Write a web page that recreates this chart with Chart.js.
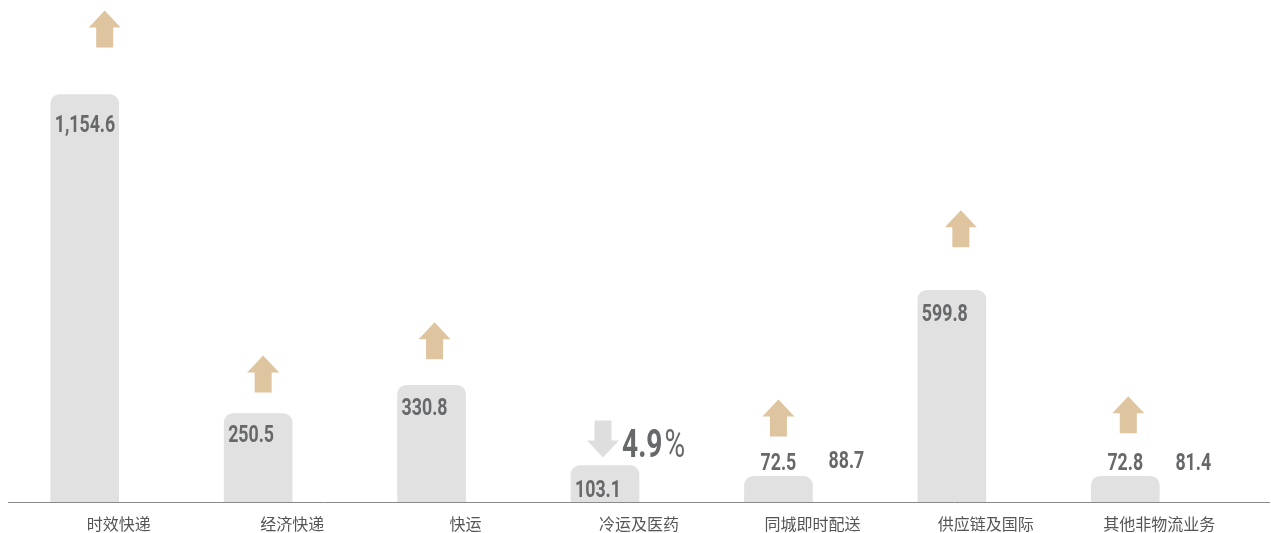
<!DOCTYPE html>
<html>
<head>
<meta charset="utf-8">
<script src="https://cdn.jsdelivr.net/npm/chart.js@4.4.1/dist/chart.umd.min.js"></script>
<style>
  html, body { margin: 0; padding: 0; background: #fff; }
  #wrap { position: relative; width: 1271px; height: 533px; }
</style>
</head>
<body>
<div id="wrap"><canvas id="c"></canvas></div>
<script>
/* ── data ─────────────────────────────── */
const CATEGORIES  = ['时效快递', '经济快递', '快运', '冷运及医药', '同城即时配送', '供应链及国际', '其他非物流业务'];
const REVENUE     = [1154.6, 250.5, 330.8, 103.1, 72.5, 599.8, 72.8];
const SIDE_VALUES = [null, null, null, null, 88.7, null, 81.4];
const TREND       = ['up', 'up', 'up', 'down', 'up', 'up', 'up'];
const CHANGE_PCT  = [null, null, null, 4.9, null, null, null];
const Y_MAX = 1400;

/* ── style ────────────────────────────── */
const BAR  = '#e1e1e1';
const INK  = '#67686a';
const TAN  = '#dfc4a0';
const GREY_ARROW = '#dedede';
const NUM_FONT = 'Roboto, "DejaVu Sans", sans-serif';
const SQUEEZE = 0.74;   // condensed look for the numbers

const fmt = v => v.toLocaleString('en-US', { minimumFractionDigits: 1, maximumFractionDigits: 1 });

// draws horizontally squeezed text, returns its drawn width
function narrowText(ctx, txt, x, y, align, font) {
  ctx.save();
  ctx.font = font;
  const w = ctx.measureText(txt).width * SQUEEZE;
  let left = x;
  if (align === 'center') left = x - w / 2;
  else if (align === 'right') left = x - w;
  ctx.translate(left, y);
  ctx.scale(SQUEEZE, 1);
  ctx.textAlign = 'left';
  ctx.textBaseline = 'alphabetic';
  ctx.fillText(txt, 0, 0);
  ctx.restore();
  return w;
}

function drawArrow(ctx, cx, top, dir, color) {
  const w = 32, h = 37, head = 17, shaft = 17;
  ctx.fillStyle = color;
  ctx.beginPath();
  if (dir === 'up') {
    ctx.moveTo(cx, top);
    ctx.lineTo(cx + w / 2, top + head);
    ctx.lineTo(cx + shaft / 2, top + head);
    ctx.lineTo(cx + shaft / 2, top + h);
    ctx.lineTo(cx - shaft / 2, top + h);
    ctx.lineTo(cx - shaft / 2, top + head);
    ctx.lineTo(cx - w / 2, top + head);
  } else {
    ctx.moveTo(cx - shaft / 2, top);
    ctx.lineTo(cx + shaft / 2, top);
    ctx.lineTo(cx + shaft / 2, top + h - head);
    ctx.lineTo(cx + w / 2, top + h - head);
    ctx.lineTo(cx, top + h);
    ctx.lineTo(cx - w / 2, top + h - head);
    ctx.lineTo(cx - shaft / 2, top + h - head);
  }
  ctx.closePath();
  ctx.fill();
}

/* baseline across the full width */
const baseLine = {
  id: 'baseLine',
  afterDatasetsDraw(chart) {
    const { ctx, chartArea } = chart;
    ctx.save();
    ctx.strokeStyle = '#8a8a8a';
    ctx.lineWidth = 1;
    ctx.beginPath();
    ctx.moveTo(8, Math.round(chartArea.bottom) + 0.5);
    ctx.lineTo(chart.width - 1, Math.round(chartArea.bottom) + 0.5);
    ctx.stroke();
    ctx.restore();
  }
};

/* value labels, trend arrows, change text */
const barLabels = {
  id: 'barLabels',
  afterDatasetsDraw(chart, args, opts) {
    const ctx = chart.ctx;
    const bars = chart.getDatasetMeta(0).data;
    const side = chart.getDatasetMeta(1).data;
    const numFont = `bold 24px ${NUM_FONT}`;
    ctx.save();
    bars.forEach((b, i) => {
      const hgt = b.base - b.y;
      let contentTop;
      ctx.fillStyle = INK;
      if (hgt > 30) {
        narrowText(ctx, fmt(REVENUE[i]), b.x - b.width / 2 + 4, b.y + opts.inset[i], 'left', numFont);
        contentTop = b.y;
      } else {
        narrowText(ctx, fmt(REVENUE[i]), b.x, b.y - 6, 'center', numFont);
        contentTop = b.y - 23;
      }

      const ax = b.x + opts.arrowDx[i];
      const bottom = contentTop - opts.arrowGap[i];
      drawArrow(ctx, ax, bottom - 37, TREND[i], TREND[i] === 'up' ? TAN : GREY_ARROW);

      if (CHANGE_PCT[i] != null) {
        ctx.fillStyle = INK;
        const num = CHANGE_PCT[i].toFixed(1);
        const w = narrowText(ctx, num, ax + 19, bottom - 1, 'left', `bold 38px ${NUM_FONT}`);
        narrowText(ctx, '%', ax + 21 + w, bottom - 1, 'left', `38px ${NUM_FONT}`);
      }

      const s = side[i];
      if (SIDE_VALUES[i] != null && s) {
        ctx.fillStyle = INK;
        narrowText(ctx, fmt(SIDE_VALUES[i]), s.x, s.y - 3, 'center', numFont);
      }
    });
    ctx.restore();
  }
};

new Chart(document.getElementById('c'), {
  type: 'bar',
  data: {
    labels: CATEGORIES,
    datasets: [
      { label: '营业收入', data: REVENUE, backgroundColor: BAR,
        borderRadius: { topLeft: 9, topRight: 9, bottomLeft: 0, bottomRight: 0 },
        borderSkipped: 'start', barThickness: 68 },
      { label: '对比', data: SIDE_VALUES, backgroundColor: 'rgba(0,0,0,0)', barThickness: 68 }
    ]
  },
  options: {
    responsive: true,
    maintainAspectRatio: false,
    animation: false,
    layout: { padding: { top: 8, left: 32, right: 25, bottom: -13 } },
    plugins: {
      legend: { display: false },
      tooltip: { enabled: false },
      barLabels: {
        inset:    [37, 28, 30, 31, 0, 31, 0],
        arrowDx:  [20, 5, 3, -2, 0, 9, 3],
        arrowGap: [47, 21, 26, 8, 17, 43, 20]
      }
    },
    scales: {
      x: {
        grid: { display: false, drawTicks: false },
        border: { display: false },
        ticks: { color: '#555', padding: 14,
                 font: { size: 16, lineHeight: 1, family: '"Noto Sans CJK SC", "Noto Sans", sans-serif' } }
      },
      y: { display: false, min: 0, max: Y_MAX }
    }
  },
  plugins: [baseLine, barLabels]
});
</script>
</body>
</html>
